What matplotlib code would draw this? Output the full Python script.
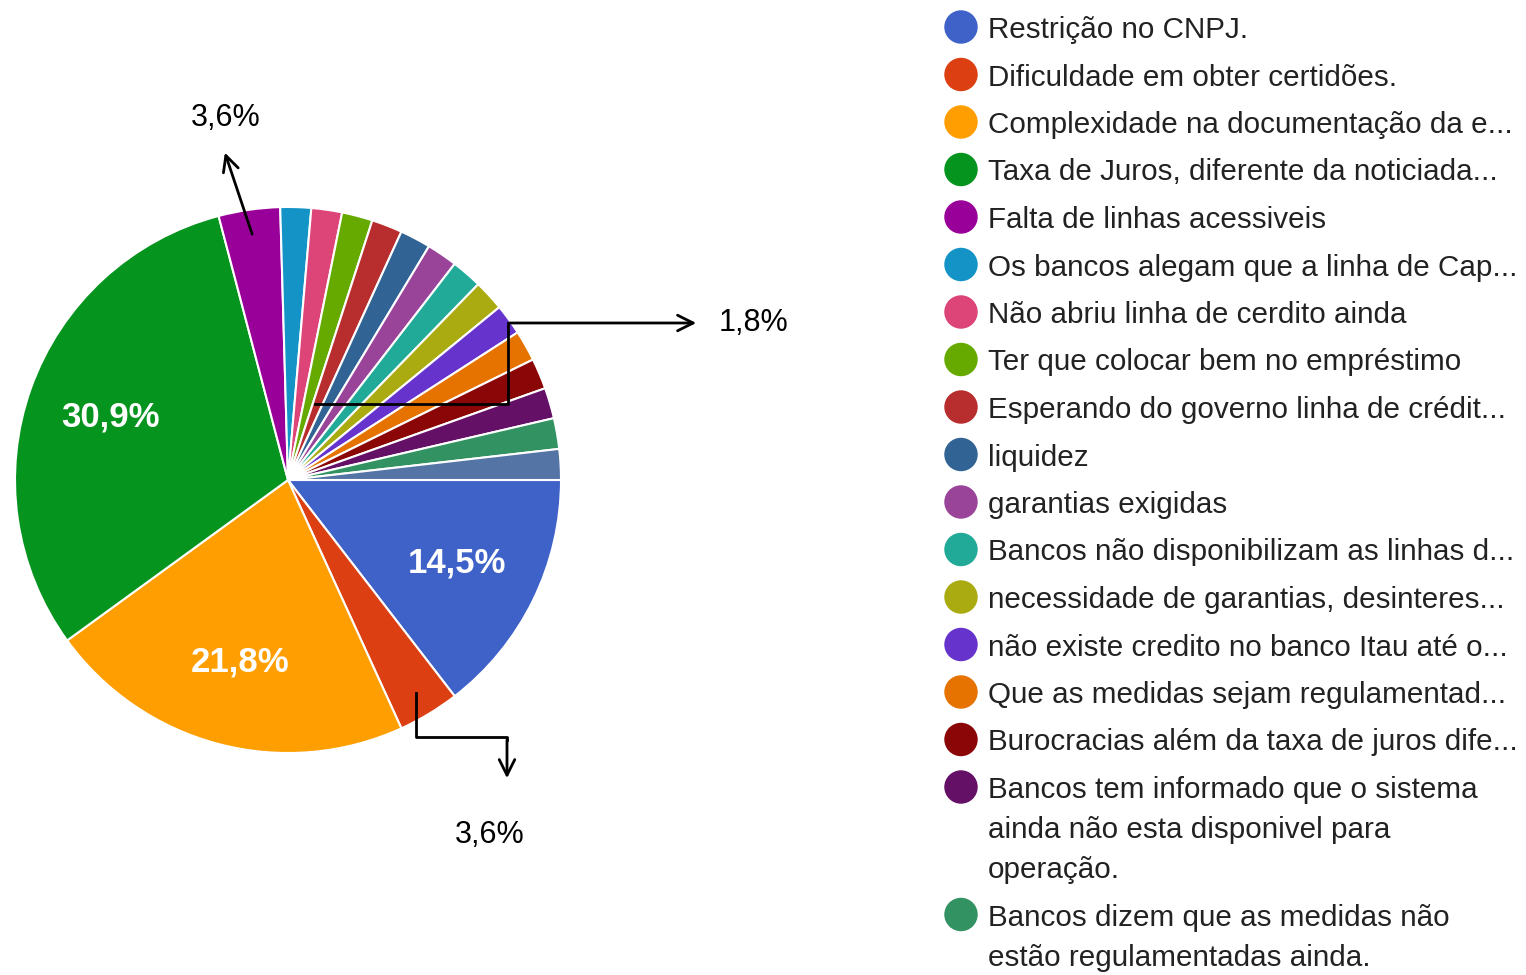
import numpy as np
import matplotlib.pyplot as plt

# --------------------------------------------------------------------------- #
# Data (55 respostas)
labels = [
    "Restrição no CNPJ.",
    "Dificuldade em obter certidões.",
    "Complexidade na documentação da e...",
    "Taxa de Juros, diferente da noticiada...",
    "Falta de linhas acessiveis",
    "Os bancos alegam que a linha de Cap...",
    "Não abriu linha de cerdito ainda",
    "Ter que colocar bem no empréstimo",
    "Esperando do governo linha de crédit...",
    "liquidez",
    "garantias exigidas",
    "Bancos não disponibilizam as linhas d...",
    "necessidade de garantias, desinteres...",
    "não existe credito no banco Itau até o...",
    "Que as medidas sejam regulamentad...",
    "Burocracias além da taxa de juros dife...",
    "Bancos tem informado que o sistema\nainda não esta disponivel para\noperação.",
    "Bancos dizem que as medidas não\nestão regulamentadas ainda.",
    "",  # last entry is cut off in the original
]
counts = [8, 2, 12, 17, 2, 1, 1, 1, 1, 1, 1, 1, 1, 1, 1, 1, 1, 1, 1]

colors = ["#3f62c9", "#dc3f12", "#ff9e00", "#05941e", "#990099", "#1393c6",
          "#dd4477", "#66aa00", "#b82e2e", "#316395", "#994499", "#22aa99",
          "#aaaa11", "#6633cc", "#e67300", "#8b0707", "#651067", "#329262",
          "#5574a6"]

W, H = 1526, 975
cx, cy, R = 288, 480, 273          # pie centre / radius in pixels

fig = plt.figure(figsize=(W / 100, H / 100), dpi=100)
fig.patch.set_facecolor("white")

# pie axes
ax = fig.add_axes([(cx - R) / W, (H - cy - R) / H, 2 * R / W, 2 * R / H])


def pct_label(p):
    return ("%.1f%%" % p).replace(".", ",") if p > 5 else ""


wedges, _, autotexts = ax.pie(counts, colors=colors, startangle=0, counterclock=False,
                              autopct=pct_label, pctdistance=0.69,
                              wedgeprops=dict(edgecolor="white", linewidth=1.5),
                              textprops=dict(color="white", fontsize=25,
                                             fontweight="semibold", family="Liberation Sans"))
ax.set_xlim(-1, 1)
ax.set_ylim(-1, 1)
ax.set_aspect("equal")
ax.axis("off")

# overlay axes in pixel coordinates for the hand-drawn notes and the legend
ov = fig.add_axes([0, 0, 1, 1])
ov.set_xlim(0, W)
ov.set_ylim(H, 0)
ov.axis("off")


def on_pie(i, r):
    # point inside wedge i (mid angle, radius fraction r) in pixel coords
    w = wedges[i]
    a = np.deg2rad((w.theta1 + w.theta2) / 2)
    return cx + R * r * np.cos(a), cy - R * r * np.sin(a)


arrow = dict(arrowstyle="->", lw=2, color="black", mutation_scale=28)
note_font = dict(fontsize=22, family="Liberation Sans", color="black")

# 3,6% - Dificuldade em obter certidões
x0, y0 = on_pie(1, 0.91)
ov.plot([x0, x0, 507, 507], [y0, 737, 737, 740], color="black", lw=2)
ov.annotate("", xy=(507, 781), xytext=(507, 737), arrowprops=arrow)
ov.text(490, 835, "3,6%", ha="center", va="center", **note_font)

# 3,6% - Falta de linhas acessiveis
x0, y0 = on_pie(4, 0.9)
ov.annotate("", xy=(224, 150), xytext=(x0, y0), arrowprops=arrow)
ov.text(226, 118, "3,6%", ha="center", va="center", **note_font)

# 1,8% - the remaining single answers
ov.plot([315, 508, 508], [404, 404, 323], color="black", lw=2)
ov.annotate("", xy=(699, 323), xytext=(507, 323), arrowprops=arrow)
ov.text(719, 323, "1,8%", ha="left", va="center", **note_font)

# legend
y = 27
for lab, col in zip(labels, colors):
    if not lab:
        continue
    ov.scatter([961], [y], s=580, color=col, edgecolor="none")
    for k, line in enumerate(lab.split("\n")):
        ov.text(988, y + 3 + 40 * k, line, ha="left", va="center", fontsize=21.3,
                family="Liberation Sans", color="#222222")
    y += 47.5 + 40 * lab.count("\n")

fig.savefig("out.png", dpi=100, facecolor="white")
